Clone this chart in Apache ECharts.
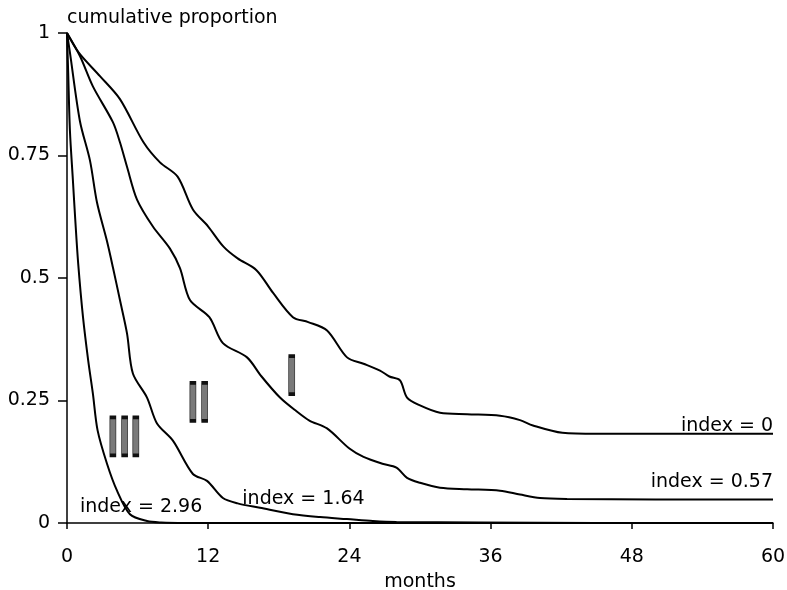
<!DOCTYPE html>
<html>
<head>
<meta charset="utf-8">
<script src="https://cdn.jsdelivr.net/npm/echarts@6/dist/echarts.min.js"></script>
<style>
  html, body { margin: 0; padding: 0; background: #fff; }
  #main { width: 787px; height: 590px; }
</style>
</head>
<body>
<div id="main"></div>
<script>
// survival curves, months vs cumulative proportion
var monthsIdx0 = [0, 1, 2.8, 4.5, 6.5, 7.9, 9.4, 10.7, 12, 13.3, 14.5, 16.1, 17.5, 19.2, 20.5, 22.1, 23.8, 25.2, 26.6, 27.4, 28.3, 28.9, 30, 31.7, 34, 36.8, 38.5, 39.6, 42.1, 45, 50, 55, 60];
var propIdx0 = [1, 0.96, 0.912, 0.865, 0.777, 0.736, 0.707, 0.64, 0.605, 0.564, 0.54, 0.516, 0.47, 0.42, 0.41, 0.393, 0.338, 0.325, 0.311, 0.299, 0.291, 0.256, 0.24, 0.225, 0.222, 0.219, 0.21, 0.199, 0.184, 0.182, 0.182, 0.182, 0.182];

var monthsIdx057 = [0, 1.1, 2.2, 3.9, 4.5, 5.1, 5.95, 7.3, 8.75, 9.6, 10.45, 12.1, 13.25, 15.3, 16.5, 18.1, 19.5, 20.6, 22.1, 24, 25.2, 26.8, 28, 28.9, 30, 31.7, 34, 36.8, 38.5, 40.2, 42.5, 50, 60];
var propIdx057 = [1, 0.953, 0.891, 0.818, 0.777, 0.727, 0.66, 0.605, 0.56, 0.52, 0.455, 0.42, 0.367, 0.338, 0.3, 0.256, 0.228, 0.209, 0.193, 0.152, 0.135, 0.121, 0.113, 0.092, 0.082, 0.072, 0.069, 0.066, 0.058, 0.051, 0.049, 0.048, 0.048];

var monthsIdx164 = [0, 0.25, 1.1, 1.95, 2.55, 3.4, 3.9, 4.5, 5.1, 5.6, 6.8, 7.65, 9.0, 10.7, 11.9, 13.25, 14.5, 16.4, 19.2, 21.5, 23.8, 26, 28, 35, 45, 60];
var propIdx164 = [1, 0.96, 0.82, 0.74, 0.654, 0.575, 0.522, 0.455, 0.387, 0.305, 0.256, 0.203, 0.168, 0.1, 0.086, 0.051, 0.04, 0.031, 0.018, 0.012, 0.008, 0.004, 0.002, 0.001, 0, 0];

var monthsIdx296 = [0, 0.1, 0.25, 0.5, 0.7, 0.95, 1.36, 1.8, 2.2, 2.6, 3.4, 4.25, 5.35, 6.8, 8, 10, 60];
var propIdx296 = [1, 0.92, 0.8, 0.7, 0.62, 0.53, 0.42, 0.332, 0.264, 0.189, 0.121, 0.066, 0.018, 0.004, 0.001, 0, 0];

var xTicks = [0, 12, 24, 36, 48, 60];
var yTicks = [0, 0.25, 0.5, 0.75, 1];

// roman numeral group bars (month, proportion)
var groupBars = [[19.1, 0.302], [10.7, 0.247], [11.7, 0.247], [3.9, 0.177], [4.9, 0.177], [5.85, 0.177]];

// curve labels
var curveLabels = [
    { text: 'index = 0', at: [60, 0.197], align: 'right' },
    { text: 'index = 0.57', at: [60, 0.084], align: 'right' },
    { text: 'index = 1.64', at: [14.9, 0.049], align: 'left' },
    { text: 'index = 2.96', at: [1.1, 0.033], align: 'left' }
];

function pairs(xs, ys) {
    return xs.map(function (x, i) { return [x, ys[i]]; });
}

var font = 'DejaVu Sans, sans-serif';
var fs = 19;

function curve(xs, ys) {
    return {
        type: 'line',
        data: pairs(xs, ys),
        smooth: 0.3,
        symbol: 'none',
        lineStyle: { color: '#000', width: 2 },
        z: 3
    };
}

var myChart = echarts.init(document.getElementById('main'));
var option = {
    animation: false,
    backgroundColor: '#fff',
    grid: { left: 67, right: 14, top: 33, bottom: 67, outerBoundsMode: 'none' },
    xAxis: {
        type: 'value',
        min: 0,
        max: 60,
        interval: 12,
        name: 'months',
        nameLocation: 'middle',
        nameGap: 50,
        nameTextStyle: { fontFamily: font, fontSize: fs, color: '#000' },
        axisLine: { lineStyle: { color: '#000', width: 1.5 } },
        axisTick: { show: true, length: 6, lineStyle: { color: '#000', width: 1.5 } },
        axisLabel: {
            margin: 25,
            fontFamily: font, fontSize: fs, color: '#000',
            formatter: function (v) { return xTicks.indexOf(v) >= 0 ? String(v) : ''; }
        },
        splitLine: { show: false }
    },
    yAxis: {
        type: 'value',
        min: 0,
        max: 1,
        interval: 0.25,
        name: 'cumulative proportion',
        nameLocation: 'end',
        nameGap: 5,
        nameTextStyle: { fontFamily: font, fontSize: fs, color: '#000', align: 'left' },
        axisLine: { show: true, lineStyle: { color: '#000', width: 1.5 } },
        axisTick: { show: true, length: 9, lineStyle: { color: '#000', width: 1.5 } },
        axisLabel: {
            margin: 17,
            fontFamily: font, fontSize: fs, color: '#000',
            formatter: function (v) { return yTicks.indexOf(v) >= 0 ? String(v) : ''; }
        },
        splitLine: { show: false }
    },
    series: [
        curve(monthsIdx0, propIdx0),
        curve(monthsIdx057, propIdx057),
        curve(monthsIdx164, propIdx164),
        curve(monthsIdx296, propIdx296),
        {
            type: 'scatter',
            data: groupBars,
            symbol: 'rect',
            symbolSize: [6, 38],
            itemStyle: { color: '#7a7a7a', borderColor: '#111', borderWidth: 1.5, opacity: 1 },
            z: 4
        },
        {
            type: 'scatter',
            symbolSize: 0,
            itemStyle: { opacity: 1 },
            data: curveLabels.map(function (l) {
                return {
                    value: l.at,
                    label: {
                        show: true,
                        position: 'inside',
                        align: l.align,
                        verticalAlign: 'middle',
                        formatter: l.text,
                        fontFamily: font,
                        fontSize: fs,
                        color: '#000'
                    }
                };
            }),
            z: 5
        }
    ]
};
myChart.setOption(option);
</script>
</body>
</html>
